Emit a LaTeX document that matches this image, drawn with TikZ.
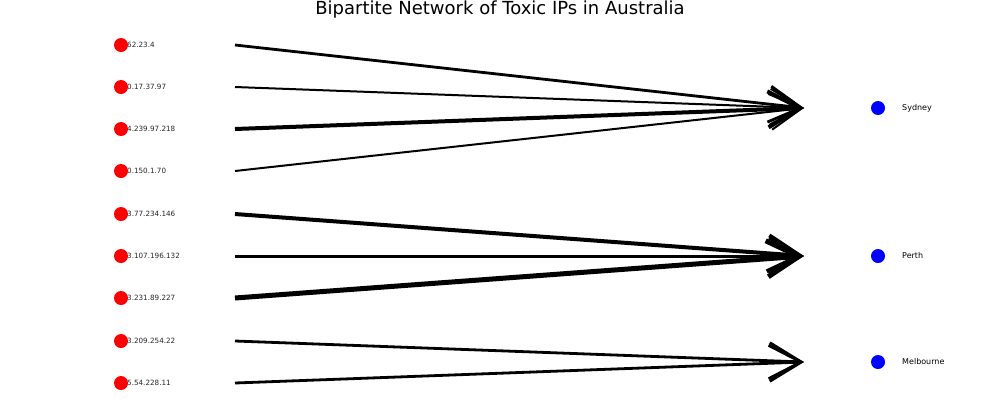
\documentclass[tikz,border=0pt]{standalone}
\usepackage{fontspec}
\setmainfont{DejaVu Sans}
\usetikzlibrary{arrows.meta}
\begin{document}
\begin{tikzpicture}[x=1pt,y=-1pt,
  ipdot/.style={circle,fill=red,draw=none,minimum size=14pt,inner sep=0pt},
  citydot/.style={circle,fill=blue,draw=none,minimum size=14pt,inner sep=0pt},
  iplabel/.style={anchor=west,inner sep=0pt,font=\fontsize{7.2}{8}\selectfont,text=black!85},
  citylabel/.style={anchor=west,inner sep=0pt,font=\fontsize{8}{9}\selectfont},
  edge/.style={-{Straight Barb[length=32pt,width=36pt]},line join=miter}]
\useasboundingbox (0,0) rectangle (1000,400);
\node[anchor=base,font=\fontsize{18}{20}\selectfont] (title) at (500,14) {Bipartite Network of Toxic IPs in Australia};
% IP labels
\node[iplabel] (l1) at (127,45) {62.23.4};
\node[iplabel] (l2) at (127,87) {0.17.37.97};
\node[iplabel] (l3) at (127,129) {4.239.97.218};
\node[iplabel] (l4) at (127,171) {0.150.1.70};
\node[iplabel] (l5) at (127,214) {3.77.234.146};
\node[iplabel] (l6) at (127,256) {3.107.196.132};
\node[iplabel] (l7) at (127,298) {3.231.89.227};
\node[iplabel] (l8) at (127,341) {3.209.254.22};
\node[iplabel] (l9) at (127,383) {5.54.228.11};
% IP dots
\node[ipdot] (d1) at (121,45) {};
\node[ipdot] (d2) at (121,87) {};
\node[ipdot] (d3) at (121,129) {};
\node[ipdot] (d4) at (121,171) {};
\node[ipdot] (d5) at (121,214) {};
\node[ipdot] (d6) at (121,256) {};
\node[ipdot] (d7) at (121,298) {};
\node[ipdot] (d8) at (121,341) {};
\node[ipdot] (d9) at (121,383) {};
% edge start points
\coordinate (s1) at (235,45);
\coordinate (s2) at (235,87);
\coordinate (s3) at (235,129);
\coordinate (s4) at (235,171);
\coordinate (s5) at (235,214);
\coordinate (s6) at (235,256);
\coordinate (s7) at (235,298);
\coordinate (s8) at (235,341);
\coordinate (s9) at (235,383);
% edge end points
\coordinate (tS) at (804,108);
\coordinate (tP) at (804,256);
\coordinate (tM) at (804,362);
% cities
\node[citydot] (sydney) at (878,108) {};
\node[citydot] (perth) at (878,256) {};
\node[citydot] (melbourne) at (878,362) {};
\node[citylabel] (ls) at (902,108) {Sydney};
\node[citylabel] (lp) at (902,256) {Perth};
\node[citylabel] (lm) at (902,362) {Melbourne};
% edges
\draw[edge,line width=2.8pt] (s1) -- (tS);
\draw[edge,line width=2pt] (s2) -- (tS);
\draw[edge,line width=4pt] (s3) -- (tS);
\draw[edge,line width=2pt] (s4) -- (tS);
\draw[edge,line width=4pt] (s5) -- (tP);
\draw[edge,line width=3pt] (s6) -- (tP);
\draw[edge,line width=5pt] (s7) -- (tP);
\draw[edge,line width=2.8pt] (s8) -- (tM);
\draw[edge,line width=2.8pt] (s9) -- (tM);
\end{tikzpicture}
\end{document}
